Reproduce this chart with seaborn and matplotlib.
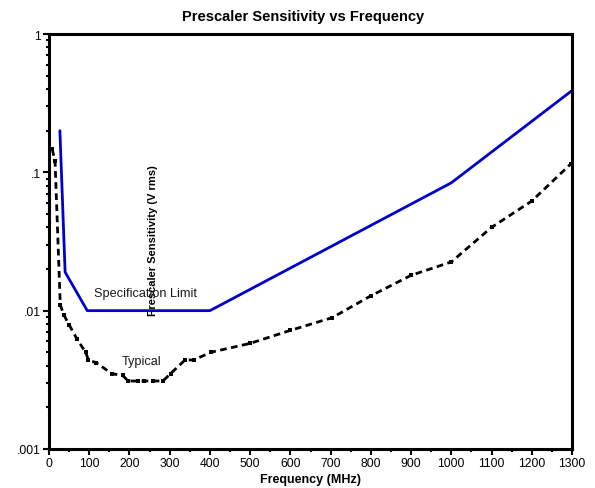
import matplotlib
matplotlib.use("Agg")
import matplotlib.pyplot as plt
import matplotlib.ticker as mticker
import seaborn as sns
import pandas as pd

# Data
spec_freq = [27, 40, 95, 400, 1000, 1300]
spec_limit = [0.20, 0.019, 0.010, 0.010, 0.084, 0.39]

typ_freq = [8, 15, 28, 37, 50, 70, 91, 98, 118, 156, 183, 197, 222, 235, 259, 283,
            302, 338, 360, 402, 500, 600, 704, 800, 900, 1000, 1100, 1200, 1297]
typical = [0.147, 0.12, 0.011, 0.0093, 0.0079, 0.0062, 0.0050, 0.0044, 0.0042, 0.0035,
           0.0034, 0.0031, 0.0031, 0.0031, 0.0031, 0.0031, 0.0035, 0.0044, 0.0044,
           0.0050, 0.0058, 0.0072, 0.0089, 0.0128, 0.018, 0.0225, 0.040, 0.062, 0.115]

x_ticks = list(range(0, 1301, 100))
y_ticks = [0.001, 0.01, 0.1, 1]
y_tick_labels = [".001", ".01", ".1", "1"]

sns.set_theme(style="ticks")
plt.rcParams['font.family'] = ['Liberation Sans', 'DejaVu Sans']
plt.rcParams['text.color'] = 'black'
plt.rcParams['axes.labelcolor'] = 'black'

fig, ax = plt.subplots(figsize=(5.95, 4.89), dpi=100)
fig.subplots_adjust(left=0.0824, right=0.9613, top=0.9284, bottom=0.0798)

spec_df = pd.DataFrame({"freq": spec_freq, "val": spec_limit})
typ_df = pd.DataFrame({"freq": typ_freq, "val": typical})

sns.lineplot(data=spec_df, x="freq", y="val", ax=ax, color="#0000CC", linewidth=2.0,
             sort=False, estimator=None)
sns.lineplot(data=typ_df, x="freq", y="val", ax=ax, color="black", linewidth=2.0,
             linestyle=(0, (2.4, 1.6)), marker="s", markersize=3.5, markeredgewidth=0,
             sort=False, estimator=None)

ax.set_yscale("log")
ax.set_xlim(0, 1300)
ax.set_ylim(0.001, 1)
ax.set_xticks(x_ticks)
ax.set_xticklabels([str(v) for v in x_ticks])
ax.xaxis.set_minor_locator(mticker.MultipleLocator(50))
ax.set_yticks(y_ticks)
ax.set_yticklabels(y_tick_labels)
ax.yaxis.set_minor_locator(mticker.LogLocator(base=10, subs=[2, 3, 4, 5, 6, 7, 8, 9]))
ax.yaxis.set_minor_formatter(mticker.NullFormatter())

ax.tick_params(axis="both", which="major", direction="out", length=4, width=1.5,
               labelsize=8.7, color="black", labelcolor="black", pad=2)
ax.tick_params(axis="both", which="minor", direction="out", length=2.5, width=1.5,
               color="black")

for s in ax.spines.values():
    s.set_linewidth(2.2)
    s.set_color("black")
    s.set_visible(True)

ax.set_title("Prescaler Sensitivity vs Frequency", fontsize=10.5, fontweight="bold",
             pad=10, x=0.486, color="black")
ax.set_xlabel("Frequency (MHz)", fontsize=9, fontweight="bold", labelpad=2.5, color="black")
ax.set_ylabel("Prescaler Sensitivity (V rms)", fontsize=8, fontweight="bold", color="black")
ax.yaxis.set_label_coords(0.209, 0.505)

ax.text(241, 0.0135, "Specification Limit", fontsize=9.2, ha="center", va="center", color="#1a1a1a")
ax.text(231, 0.0043, "Typical", fontsize=9.2, ha="center", va="center", color="#1a1a1a")

fig.savefig("out.png", dpi=100)
